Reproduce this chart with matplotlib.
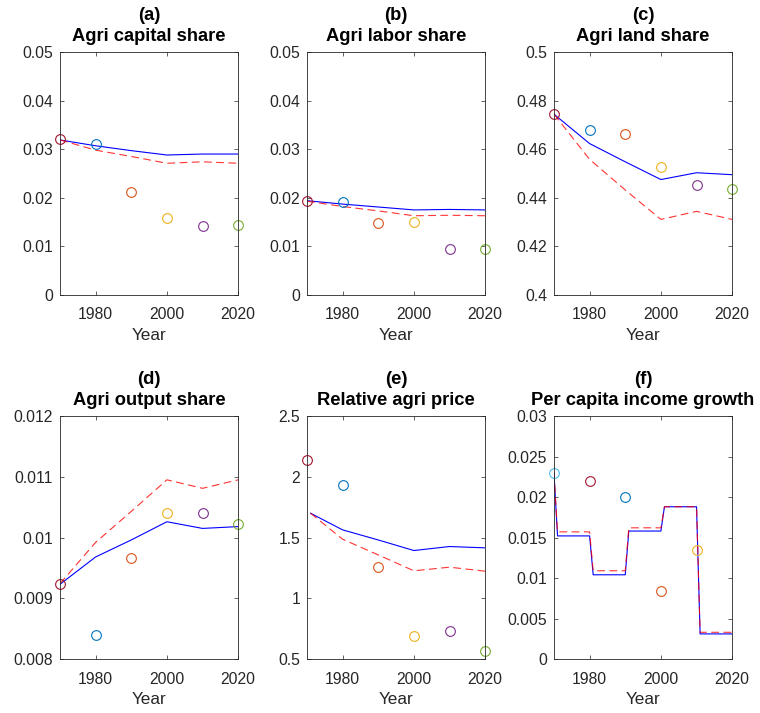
import numpy as np
import matplotlib.pyplot as plt

plt.rcParams['font.family'] = ['Liberation Sans', 'DejaVu Sans']

years = [1970, 1980, 1990, 2000, 2010, 2020]
years_e = [1971, 1980, 1990, 2000, 2010, 2020]          # panel (e) lines start one year later

# (a) agri capital share
cap_blue = [0.0319, 0.0307, 0.0297, 0.0288, 0.0290, 0.0290]
cap_red = [0.0319, 0.0298, 0.0285, 0.0271, 0.0274, 0.0271]
cap_data = [0.0320, 0.0310, 0.0211, 0.0158, 0.0141, 0.0143]

# (b) agri labor share
lab_blue = [0.0194, 0.0187, 0.0181, 0.0175, 0.0176, 0.0175]
lab_red = [0.0193, 0.0182, 0.0173, 0.0163, 0.0164, 0.0163]
lab_data = [0.0194, 0.0191, 0.0149, 0.0151, 0.0094, 0.0095]

# (c) agri land share
land_blue = [0.4744, 0.4623, 0.4548, 0.4475, 0.4503, 0.4495]
land_red = [0.4744, 0.4558, 0.4432, 0.4311, 0.4344, 0.4311]
land_data = [0.4744, 0.4678, 0.4663, 0.4525, 0.4451, 0.4437]

# (d) agri output share
out_blue = [0.00923, 0.00968, 0.00996, 0.01026, 0.01015, 0.01018]
out_red = [0.00924, 0.00992, 0.01043, 0.01095, 0.01081, 0.01095]
out_data = [0.00923, 0.00839, 0.00967, 0.01040, 0.01040, 0.01023]

# (e) relative agri price
price_blue = [1.70, 1.563, 1.48, 1.393, 1.426, 1.415]
price_red = [1.70, 1.486, 1.357, 1.226, 1.256, 1.223]
price_data = [2.138, 1.936, 1.259, 0.686, 0.733, 0.563]

# (f) per capita income growth (step paths)
growth_years = [1970, 1971, 1980, 1981, 1990, 1991, 2000, 2001, 2010, 2011, 2020]
growth_blue = [0.0230, 0.0152, 0.0152, 0.0104, 0.0104, 0.0158, 0.0158, 0.0188, 0.0188, 0.0031, 0.0031]
growth_red = [0.0230, 0.0157, 0.0157, 0.0109, 0.0109, 0.0162, 0.0162, 0.0188, 0.0188, 0.0033, 0.0033]
growth_years_data = [1970, 1980, 1990, 2000, 2010]
growth_data = [0.0230, 0.0220, 0.0200, 0.0084, 0.0135]

# matlab default colours
c_blue = (0, 0.447, 0.741)
c_orange = (0.85, 0.325, 0.098)
c_yellow = (0.929, 0.694, 0.125)
c_purple = (0.494, 0.184, 0.556)
c_green = (0.466, 0.674, 0.188)
c_cyan = (0.301, 0.745, 0.933)
c_darkred = (0.635, 0.078, 0.184)
dot_colors = [c_darkred, c_blue, c_orange, c_yellow, c_purple, c_green]
dot_colors_f = [c_cyan, c_darkred, c_blue, c_orange, c_yellow]

axcol = (0.15, 0.15, 0.15)

fig = plt.figure(figsize=(7.6, 7.13), dpi=100)

lefts = [0.0789, 0.4039, 0.7289]
width = 0.2345
tops = [0.5863, 0.0757]
height = 0.3408

panels = [
	('(a)', 'Agri capital share', years, cap_blue, cap_red, years, cap_data, dot_colors, (0, 0.05), np.arange(0, 0.051, 0.01), ['0', '0.01', '0.02', '0.03', '0.04', '0.05']),
	('(b)', 'Agri labor share', years, lab_blue, lab_red, years, lab_data, dot_colors, (0, 0.05), np.arange(0, 0.051, 0.01), ['0', '0.01', '0.02', '0.03', '0.04', '0.05']),
	('(c)', 'Agri land share', years, land_blue, land_red, years, land_data, dot_colors, (0.4, 0.5), np.arange(0.4, 0.501, 0.02), ['0.4', '0.42', '0.44', '0.46', '0.48', '0.5']),
	('(d)', 'Agri output share', years, out_blue, out_red, years, out_data, dot_colors, (0.008, 0.012), np.arange(0.008, 0.01201, 0.001), ['0.008', '0.009', '0.01', '0.011', '0.012']),
	('(e)', 'Relative agri price', years_e, price_blue, price_red, years, price_data, dot_colors, (0.5, 2.5), np.arange(0.5, 2.51, 0.5), ['0.5', '1', '1.5', '2', '2.5']),
	('(f)', 'Per capita income growth', growth_years, growth_blue, growth_red, growth_years_data, growth_data, dot_colors_f, (0, 0.03), np.arange(0, 0.0301, 0.005), ['0', '0.005', '0.01', '0.015', '0.02', '0.025', '0.03']),
]

for i, p in enumerate(panels):
	tag, name, lx, yb, yr, dx, dy, dcols, ylim, yt, ytl = p
	ax = fig.add_axes([lefts[i % 3], tops[i // 3], width, height])
	ax.plot(lx, yb, color='b', linewidth=0.8, linestyle='-')
	ax.plot(lx, yr, color='r', linewidth=0.8, linestyle='--', dashes=(7, 4), alpha=0.8)
	for x, y, c in zip(dx, dy, dcols):
		ax.plot(x, y, marker='o', markersize=7, markerfacecolor='none', markeredgecolor=c, markeredgewidth=0.8, linestyle='none', clip_on=False)
	ax.set_xlim(1970, 2020)
	ax.set_xticks([1980, 2000, 2020])
	ax.set_ylim(ylim)
	ax.set_yticks(yt)
	ax.set_yticklabels(ytl)
	ax.set_xlabel('Year', fontsize=12.3, color=axcol, labelpad=4)
	ax.set_title(tag + '\n' + name, fontsize=13.2, fontweight='bold', linespacing=1.3, pad=8)
	ax.tick_params(axis='x', pad=9)
	ax.tick_params(axis='y', pad=5)
	ax.tick_params(direction='in', top=True, right=True, length=3, width=0.5, labelsize=11.3, colors=axcol)
	for s in ax.spines.values():
		s.set_color(axcol)
		s.set_linewidth(0.6)

plt.savefig('out.png', dpi=100)
